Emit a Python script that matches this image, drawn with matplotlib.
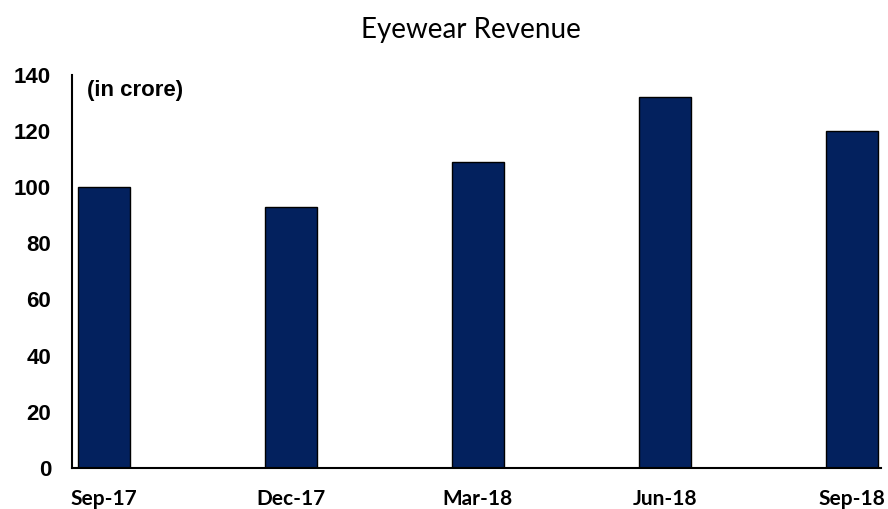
import matplotlib.pyplot as plt

quarters = ["Sep-17", "Dec-17", "Mar-18", "Jun-18", "Sep-18"]
revenue = [100, 93, 109, 132, 120]

navy = "#03215e"

fig = plt.figure(figsize=(8.88, 5.09), dpi=100)
ax = fig.add_axes([72 / 888, 41 / 509, (881 - 72) / 888, (434.5 - 41) / 509])

x = range(len(quarters))
ax.bar(x, revenue, width=0.28, color=navy, edgecolor="black", linewidth=1.0)

ax.set_xlim(-0.17, 4.155)
ax.set_ylim(0, 140)
ax.set_yticks(range(0, 141, 20))
ax.set_xticks(list(x))
ax.set_xticklabels(quarters, fontfamily="Lato", fontweight="bold", fontsize=15)
for lbl in ax.get_yticklabels():
    lbl.set_fontfamily("Liberation Sans")
    lbl.set_fontweight("bold")
    lbl.set_fontsize(16)

ax.tick_params(axis="both", length=0)
ax.tick_params(axis="y", pad=15)
ax.tick_params(axis="x", pad=15)

for side in ["top", "right"]:
    ax.spines[side].set_visible(False)
ax.spines["left"].set_linewidth(1.5)
ax.spines["bottom"].set_linewidth(1.5)

ax.text(0.019, 0.985, "(in crore)", transform=ax.transAxes, ha="left", va="top",
        fontfamily="Liberation Sans", fontweight="bold", fontsize=16)

fig.text(471 / 888, 1 - 30 / 509, "Eyewear Revenue", ha="center", va="center",
         fontfamily="Lato", fontsize=20)

fig.savefig("out.png", dpi=100)
